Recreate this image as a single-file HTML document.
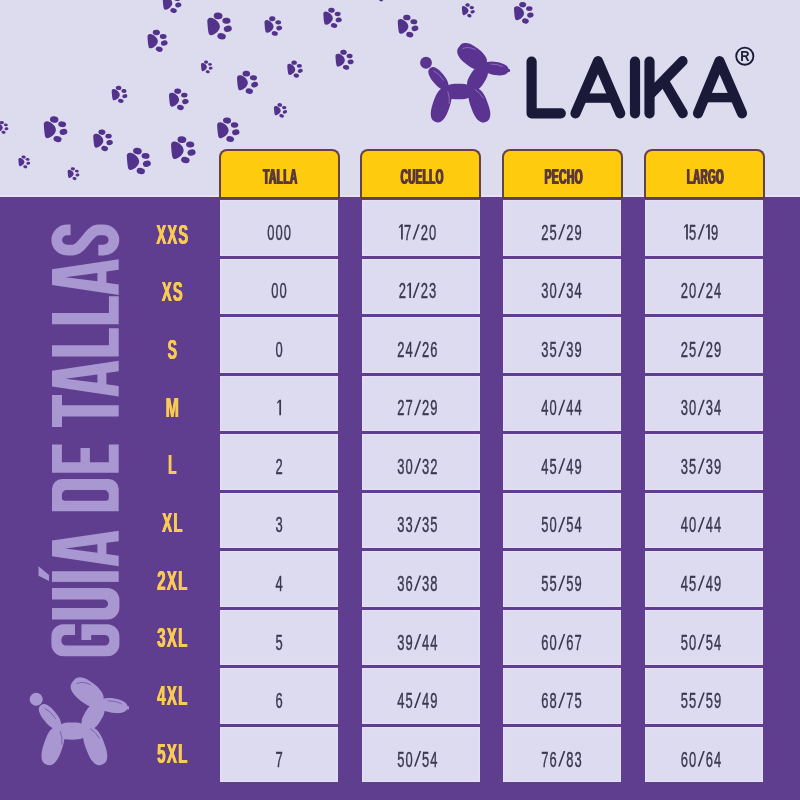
<!DOCTYPE html>
<html lang="es"><head><meta charset="utf-8"><title>Guía de tallas LAIKA</title>
<style>
html,body{margin:0;padding:0;}
body{width:800px;height:800px;overflow:hidden;background:#dddbee;font-family:"Liberation Sans",sans-serif;}
#stage{position:relative;width:800px;height:800px;overflow:hidden;}
#lower{position:absolute;left:0;top:195px;width:800px;height:602.5px;background:#5f3d8f;border-top:2.5px solid #e8e0fc;}
.hd{position:absolute;box-sizing:border-box;top:149.0px;height:50.4px;width:121.0px;background:#ffcb0f;border:2px solid #654246;border-bottom:2.4px solid #5e3a58;border-radius:8px 8px 0 0;}
.c{position:absolute;width:118.0px;height:55.5px;background:#dddbef;box-shadow:inset 0 0 0 1.2px #e6dff9;}
svg{position:absolute;left:0;top:0;will-change:transform;}
text{font-family:"Liberation Sans",sans-serif;}
</style></head><body><div id="stage">
<div id="lower"></div>
<div class="hd" style="left:218.75px"></div>
<div class="hd" style="left:360.42px"></div>
<div class="hd" style="left:502.09px"></div>
<div class="hd" style="left:643.76px"></div>
<div class="c" style="left:220.00px;top:200.00px"></div>
<div class="c" style="left:361.67px;top:200.00px"></div>
<div class="c" style="left:503.34px;top:200.00px"></div>
<div class="c" style="left:645.01px;top:200.00px"></div>
<div class="c" style="left:220.00px;top:258.55px"></div>
<div class="c" style="left:361.67px;top:258.55px"></div>
<div class="c" style="left:503.34px;top:258.55px"></div>
<div class="c" style="left:645.01px;top:258.55px"></div>
<div class="c" style="left:220.00px;top:317.10px"></div>
<div class="c" style="left:361.67px;top:317.10px"></div>
<div class="c" style="left:503.34px;top:317.10px"></div>
<div class="c" style="left:645.01px;top:317.10px"></div>
<div class="c" style="left:220.00px;top:375.65px"></div>
<div class="c" style="left:361.67px;top:375.65px"></div>
<div class="c" style="left:503.34px;top:375.65px"></div>
<div class="c" style="left:645.01px;top:375.65px"></div>
<div class="c" style="left:220.00px;top:434.20px"></div>
<div class="c" style="left:361.67px;top:434.20px"></div>
<div class="c" style="left:503.34px;top:434.20px"></div>
<div class="c" style="left:645.01px;top:434.20px"></div>
<div class="c" style="left:220.00px;top:492.75px"></div>
<div class="c" style="left:361.67px;top:492.75px"></div>
<div class="c" style="left:503.34px;top:492.75px"></div>
<div class="c" style="left:645.01px;top:492.75px"></div>
<div class="c" style="left:220.00px;top:551.30px"></div>
<div class="c" style="left:361.67px;top:551.30px"></div>
<div class="c" style="left:503.34px;top:551.30px"></div>
<div class="c" style="left:645.01px;top:551.30px"></div>
<div class="c" style="left:220.00px;top:609.85px"></div>
<div class="c" style="left:361.67px;top:609.85px"></div>
<div class="c" style="left:503.34px;top:609.85px"></div>
<div class="c" style="left:645.01px;top:609.85px"></div>
<div class="c" style="left:220.00px;top:668.40px"></div>
<div class="c" style="left:361.67px;top:668.40px"></div>
<div class="c" style="left:503.34px;top:668.40px"></div>
<div class="c" style="left:645.01px;top:668.40px"></div>
<div class="c" style="left:220.00px;top:726.95px"></div>
<div class="c" style="left:361.67px;top:726.95px"></div>
<div class="c" style="left:503.34px;top:726.95px"></div>
<div class="c" style="left:645.01px;top:726.95px"></div>
<svg width="800" height="800" viewBox="0 0 800 800">
<defs>
<g id="paw"><path d="M-11.6,-4.5 C-11.9,-7.6 -9.6,-8.7 -7,-7.9 C-3.4,-6.7 0.3,-3.3 0.4,0.2 C0.5,3.6 -3.8,7.7 -7.6,8.5 C-9.6,8.9 -10.3,7.3 -10.6,5.4 C-11.2,2 -11.4,-2 -11.6,-4.5 Z"/><ellipse cx="-1.3" cy="-9.9" rx="4.2" ry="3.2" transform="rotate(6 -1.3 -9.9)"/><ellipse cx="6.6" cy="-5.2" rx="3.9" ry="2.85" transform="rotate(4 6.6 -5.2)"/><ellipse cx="7.9" cy="2.4" rx="3.9" ry="3.0" transform="rotate(-14 7.9 2.4)"/><ellipse cx="2.0" cy="9.5" rx="4.1" ry="3.0" transform="rotate(14 2.0 9.5)"/></g>
<g id="dog"><circle cx="426" cy="62.75" r="5.9"/><path d="M446.7,88.7 L445.5,89.4 L444.3,89.7 L443.1,89.7 L441.7,89.3 L440.3,88.6 L438.8,87.6 L437.2,86.3 L435.6,84.6 L433.6,82.3 L431.7,79.9 L430.4,77.9 L429.5,76.1 L428.8,74.4 L428.4,72.9 L428.3,71.5 L428.5,70.3 L429.1,69.2 L430.1,68.1 L431.3,67.4 L432.5,67.1 L433.7,67.1 L435.1,67.5 L436.5,68.2 L438.0,69.2 L439.6,70.5 L441.2,72.2 L443.2,74.5 L445.1,76.9 L446.4,78.9 L447.3,80.7 L448.0,82.4 L448.4,83.9 L448.5,85.3 L448.3,86.5 L447.7,87.6Z M473.2,91.5 L473.0,93.3 L472.5,94.7 L471.5,95.9 L470.3,96.9 L468.6,97.7 L466.7,98.4 L464.5,98.9 L461.8,99.2 L458.4,99.3 L455.0,99.2 L452.3,98.9 L450.1,98.4 L448.2,97.7 L446.5,96.9 L445.3,95.9 L444.3,94.7 L443.8,93.3 L443.6,91.5 L443.8,89.7 L444.3,88.3 L445.3,87.1 L446.5,86.1 L448.2,85.3 L450.1,84.6 L452.3,84.1 L455.0,83.8 L458.4,83.7 L461.8,83.8 L464.5,84.1 L466.7,84.6 L468.6,85.3 L470.3,86.1 L471.5,87.1 L472.5,88.3 L473.0,89.7Z M435.6,122.0 L433.7,121.1 L432.5,120.0 L431.6,118.6 L431.0,116.8 L430.8,114.8 L430.8,112.4 L431.2,109.6 L431.9,106.5 L433.2,102.3 L434.7,98.2 L436.0,95.2 L437.3,92.9 L438.7,90.9 L440.2,89.4 L441.7,88.3 L443.2,87.7 L444.8,87.6 L446.9,88.0 L448.8,88.9 L450.0,90.0 L450.9,91.4 L451.5,93.2 L451.7,95.2 L451.7,97.6 L451.3,100.4 L450.6,103.5 L449.3,107.7 L447.8,111.8 L446.5,114.8 L445.2,117.1 L443.8,119.1 L442.3,120.6 L440.8,121.7 L439.3,122.3 L437.7,122.4Z M485.7,121.9 L483.6,122.4 L482.0,122.4 L480.4,121.8 L478.8,120.8 L477.3,119.4 L475.8,117.5 L474.4,115.2 L473.0,112.4 L471.4,108.3 L469.9,104.1 L469.1,101.1 L468.6,98.4 L468.5,96.0 L468.7,93.9 L469.2,92.2 L470.0,90.7 L471.2,89.6 L473.1,88.6 L475.2,88.1 L476.8,88.1 L478.4,88.7 L480.0,89.7 L481.5,91.1 L483.0,93.0 L484.4,95.3 L485.8,98.1 L487.4,102.2 L488.9,106.4 L489.7,109.4 L490.2,112.1 L490.3,114.5 L490.1,116.6 L489.6,118.3 L488.8,119.8 L487.6,120.9Z M484.9,66.4 L486.3,67.5 L487.2,68.7 L487.8,70.1 L488.0,71.7 L487.9,73.4 L487.6,75.3 L486.9,77.3 L485.8,79.5 L484.2,82.3 L482.4,85.0 L480.8,86.9 L479.3,88.4 L477.8,89.6 L476.2,90.4 L474.7,90.8 L473.3,90.9 L471.8,90.6 L470.1,89.8 L468.7,88.7 L467.8,87.5 L467.2,86.1 L467.0,84.5 L467.1,82.8 L467.4,80.9 L468.1,78.9 L469.2,76.7 L470.8,73.9 L472.6,71.2 L474.2,69.3 L475.7,67.8 L477.2,66.6 L478.8,65.8 L480.3,65.4 L481.7,65.3 L483.2,65.6Z M484.9,66.4 L483.3,68.2 L481.8,69.2 L480.1,69.7 L478.3,69.9 L476.3,69.6 L474.2,69.0 L471.9,67.9 L469.4,66.4 L466.1,64.0 L463.0,61.5 L461.0,59.4 L459.4,57.4 L458.3,55.5 L457.5,53.7 L457.2,51.8 L457.3,50.1 L457.9,48.4 L459.3,46.4 L460.9,44.6 L462.4,43.6 L464.1,43.1 L465.9,42.9 L467.9,43.2 L470.0,43.8 L472.3,44.9 L474.8,46.4 L478.1,48.8 L481.2,51.3 L483.2,53.4 L484.8,55.4 L485.9,57.3 L486.7,59.1 L487.0,61.0 L486.9,62.7 L486.3,64.4Z M508.5,70.5 L508.1,71.8 L507.4,72.9 L506.4,73.8 L505.1,74.4 L503.6,74.9 L501.8,75.2 L499.7,75.4 L497.4,75.3 L494.6,74.9 L491.8,74.4 L489.6,73.8 L487.7,73.1 L486.1,72.3 L484.7,71.3 L483.7,70.3 L483.0,69.2 L482.7,68.0 L482.7,66.5 L483.1,65.2 L483.8,64.1 L484.8,63.2 L486.1,62.6 L487.6,62.1 L489.4,61.8 L491.5,61.6 L493.8,61.7 L496.6,62.1 L499.4,62.6 L501.6,63.2 L503.5,63.9 L505.1,64.7 L506.5,65.7 L507.5,66.7 L508.2,67.8 L508.5,69.0Z"/><rect x="507" y="68.9" width="3" height="3.2" rx="0.8"/><path d="M462.9,48.5 Q468.1,46.0 475.2,49.5 M491.0,64.1 Q497.5,64.0 502.8,66.5 M433.8,70.9 Q439.4,73.8 443.5,80.2 M447.9,91.9 Q450.0,97.5 449.2,103.5 M475.0,89.5 Q480.0,92.5 483.2,98.1" fill="none" stroke="currentColor" stroke-width="0.9" stroke-linecap="round"/></g>
</defs>
<g fill="#53328b">
<use href="#paw" transform="translate(172,3) scale(0.798)"/>
<use href="#paw" transform="translate(157.5,41) scale(0.861)"/>
<use href="#paw" transform="translate(119.5,94.5) scale(0.672)"/>
<use href="#paw" transform="translate(178.75,99.5) scale(0.840)"/>
<use href="#paw" transform="translate(2.5,127.5) scale(0.504)"/>
<use href="#paw" transform="translate(55.5,129.5) scale(1.008)"/>
<use href="#paw" transform="translate(103,140.5) scale(0.840)"/>
<use href="#paw" transform="translate(183.25,150) scale(1.050)"/>
<use href="#paw" transform="translate(138.75,161.25) scale(1.029)"/>
<use href="#paw" transform="translate(24.25,162) scale(0.504)"/>
<use href="#paw" transform="translate(73.5,173.75) scale(0.504)"/>
<use href="#paw" transform="translate(219.5,26.25) scale(1.050)"/>
<use href="#paw" transform="translate(273.25,26.25) scale(0.756)"/>
<use href="#paw" transform="translate(332.5,18) scale(0.788)"/>
<use href="#paw" transform="translate(206.75,67) scale(0.494)"/>
<use href="#paw" transform="translate(295,69.25) scale(0.662)"/>
<use href="#paw" transform="translate(344.5,60) scale(0.777)"/>
<use href="#paw" transform="translate(247.5,82.5) scale(0.903)"/>
<use href="#paw" transform="translate(280.5,110.5) scale(0.567)"/>
<use href="#paw" transform="translate(228.25,130) scale(0.956)"/>
<use href="#paw" transform="translate(380,-5) scale(0.504)"/>
<use href="#paw" transform="translate(408,26.25) scale(0.882)"/>
<use href="#paw" transform="translate(468.25,10.5) scale(0.546)"/>
<use href="#paw" transform="translate(523.75,13) scale(0.840)"/>
</g>
<use href="#dog" fill="#5b3390" color="#8d72c2"/>
<use href="#dog" fill="#a997d1" color="#7d62b4" transform="translate(-434.53,629.91) scale(1.105)"/>
<g fill="none" stroke="#1a1a38" stroke-width="10.2" stroke-linecap="round" stroke-linejoin="round">
<path d="M531.6,61.6 V113.3 H560.8"/>
<path d="M575.5,113.3 L598,61.2 L620.2,113.3"/>
<path d="M583,98.1 H613" stroke-width="9.4" stroke-linecap="butt"/>
<path d="M635,61.6 V113.3"/>
<path d="M649.5,61.6 V113.3"/>
<path d="M682.5,61.2 L651.5,93"/>
<path d="M664.7,82.5 L682.7,113.2"/>
<path d="M698,113.3 L719.5,61.2 L742,113.3"/>
<path d="M705,97.6 H735" stroke-width="9.4" stroke-linecap="butt"/>
</g>
<circle cx="744.8" cy="56.15" r="8.6" fill="none" stroke="#1a1a38" stroke-width="1.85"/>
<text transform="translate(740.30,60.80) scale(0.9136,1)" font-size="14.10" font-weight="bold" fill="#1a1a38">R</text>
<text transform="translate(262.50,183.75) scale(0.4759,1)" font-size="21.44" font-weight="bold" fill="#5b393b" letter-spacing="0.8">TALLA</text><text transform="translate(263.15,183.75) scale(0.4759,1)" font-size="21.44" font-weight="bold" fill="#5b393b" letter-spacing="0.8">TALLA</text><text transform="translate(263.80,183.75) scale(0.4759,1)" font-size="21.44" font-weight="bold" fill="#5b393b" letter-spacing="0.8">TALLA</text>
<text transform="translate(399.90,183.75) scale(0.4656,1)" font-size="21.44" font-weight="bold" fill="#5b393b" letter-spacing="0.8">CUELLO</text><text transform="translate(400.55,183.75) scale(0.4656,1)" font-size="21.44" font-weight="bold" fill="#5b393b" letter-spacing="0.8">CUELLO</text><text transform="translate(401.20,183.75) scale(0.4656,1)" font-size="21.44" font-weight="bold" fill="#5b393b" letter-spacing="0.8">CUELLO</text>
<text transform="translate(544.00,183.75) scale(0.4796,1)" font-size="21.44" font-weight="bold" fill="#5b393b" letter-spacing="0.8">PECHO</text><text transform="translate(544.65,183.75) scale(0.4796,1)" font-size="21.44" font-weight="bold" fill="#5b393b" letter-spacing="0.8">PECHO</text><text transform="translate(545.30,183.75) scale(0.4796,1)" font-size="21.44" font-weight="bold" fill="#5b393b" letter-spacing="0.8">PECHO</text>
<text transform="translate(686.25,183.75) scale(0.4552,1)" font-size="21.44" font-weight="bold" fill="#5b393b" letter-spacing="0.8">LARGO</text><text transform="translate(686.90,183.75) scale(0.4552,1)" font-size="21.44" font-weight="bold" fill="#5b393b" letter-spacing="0.8">LARGO</text><text transform="translate(687.55,183.75) scale(0.4552,1)" font-size="21.44" font-weight="bold" fill="#5b393b" letter-spacing="0.8">LARGO</text>
<text transform="translate(156.10,243.60) scale(0.5419,1)" font-size="27.03" font-weight="bold" fill="#facb52" letter-spacing="2.2">XXS</text><text transform="translate(156.45,243.60) scale(0.5419,1)" font-size="27.03" font-weight="bold" fill="#facb52" letter-spacing="2.2">XXS</text><text transform="translate(156.80,243.60) scale(0.5419,1)" font-size="27.03" font-weight="bold" fill="#facb52" letter-spacing="2.2">XXS</text>
<text transform="translate(161.60,301.27) scale(0.5410,1)" font-size="27.03" font-weight="bold" fill="#facb52" letter-spacing="2.2">XS</text><text transform="translate(161.95,301.27) scale(0.5410,1)" font-size="27.03" font-weight="bold" fill="#facb52" letter-spacing="2.2">XS</text><text transform="translate(162.30,301.27) scale(0.5410,1)" font-size="27.03" font-weight="bold" fill="#facb52" letter-spacing="2.2">XS</text>
<text transform="translate(167.30,358.94) scale(0.5157,1)" font-size="27.03" font-weight="bold" fill="#facb52" letter-spacing="2.2">S</text><text transform="translate(167.65,358.94) scale(0.5157,1)" font-size="27.03" font-weight="bold" fill="#facb52" letter-spacing="2.2">S</text><text transform="translate(168.00,358.94) scale(0.5157,1)" font-size="27.03" font-weight="bold" fill="#facb52" letter-spacing="2.2">S</text>
<text transform="translate(165.30,416.61) scale(0.5906,1)" font-size="27.03" font-weight="bold" fill="#facb52" letter-spacing="2.2">M</text><text transform="translate(165.65,416.61) scale(0.5906,1)" font-size="27.03" font-weight="bold" fill="#facb52" letter-spacing="2.2">M</text><text transform="translate(166.00,416.61) scale(0.5906,1)" font-size="27.03" font-weight="bold" fill="#facb52" letter-spacing="2.2">M</text>
<text transform="translate(167.80,474.28) scale(0.5025,1)" font-size="27.03" font-weight="bold" fill="#facb52" letter-spacing="2.2">L</text><text transform="translate(168.15,474.28) scale(0.5025,1)" font-size="27.03" font-weight="bold" fill="#facb52" letter-spacing="2.2">L</text><text transform="translate(168.50,474.28) scale(0.5025,1)" font-size="27.03" font-weight="bold" fill="#facb52" letter-spacing="2.2">L</text>
<text transform="translate(161.80,531.95) scale(0.5524,1)" font-size="27.03" font-weight="bold" fill="#facb52" letter-spacing="2.2">XL</text><text transform="translate(162.15,531.95) scale(0.5524,1)" font-size="27.03" font-weight="bold" fill="#facb52" letter-spacing="2.2">XL</text><text transform="translate(162.50,531.95) scale(0.5524,1)" font-size="27.03" font-weight="bold" fill="#facb52" letter-spacing="2.2">XL</text>
<text transform="translate(156.85,589.62) scale(0.5594,1)" font-size="27.03" font-weight="bold" fill="#facb52" letter-spacing="2.2">2XL</text><text transform="translate(157.20,589.62) scale(0.5594,1)" font-size="27.03" font-weight="bold" fill="#facb52" letter-spacing="2.2">2XL</text><text transform="translate(157.55,589.62) scale(0.5594,1)" font-size="27.03" font-weight="bold" fill="#facb52" letter-spacing="2.2">2XL</text>
<text transform="translate(156.85,647.29) scale(0.5594,1)" font-size="27.03" font-weight="bold" fill="#facb52" letter-spacing="2.2">3XL</text><text transform="translate(157.20,647.29) scale(0.5594,1)" font-size="27.03" font-weight="bold" fill="#facb52" letter-spacing="2.2">3XL</text><text transform="translate(157.55,647.29) scale(0.5594,1)" font-size="27.03" font-weight="bold" fill="#facb52" letter-spacing="2.2">3XL</text>
<text transform="translate(156.85,704.96) scale(0.5594,1)" font-size="27.03" font-weight="bold" fill="#facb52" letter-spacing="2.2">4XL</text><text transform="translate(157.20,704.96) scale(0.5594,1)" font-size="27.03" font-weight="bold" fill="#facb52" letter-spacing="2.2">4XL</text><text transform="translate(157.55,704.96) scale(0.5594,1)" font-size="27.03" font-weight="bold" fill="#facb52" letter-spacing="2.2">4XL</text>
<text transform="translate(156.85,762.63) scale(0.5594,1)" font-size="27.03" font-weight="bold" fill="#facb52" letter-spacing="2.2">5XL</text><text transform="translate(157.20,762.63) scale(0.5594,1)" font-size="27.03" font-weight="bold" fill="#facb52" letter-spacing="2.2">5XL</text><text transform="translate(157.55,762.63) scale(0.5594,1)" font-size="27.03" font-weight="bold" fill="#facb52" letter-spacing="2.2">5XL</text>
<text transform="translate(267.15,239.65) scale(0.5711,1)" font-size="22.67" font-weight="normal" fill="#3a384f" stroke="#3a384f" stroke-width="0.45">0</text>
<text transform="translate(275.40,239.65) scale(0.5711,1)" font-size="22.67" font-weight="normal" fill="#3a384f" stroke="#3a384f" stroke-width="0.45">0</text>
<text transform="translate(283.65,239.65) scale(0.5711,1)" font-size="22.67" font-weight="normal" fill="#3a384f" stroke="#3a384f" stroke-width="0.45">0</text>
<path d="M402.80,224.15 V239.55 H401.05 V226.45 L398.90,228.15 V226.65 L401.05,224.15 Z" fill="#3a384f"/>
<text transform="translate(404.00,239.65) scale(0.5711,1)" font-size="22.67" font-weight="normal" fill="#3a384f" stroke="#3a384f" stroke-width="0.45">7</text>
<path d="M412.55,239.55 h1.7 L419.75,224.15 h-1.7 Z" fill="#3a384f"/>
<text transform="translate(420.65,239.65) scale(0.5711,1)" font-size="22.67" font-weight="normal" fill="#3a384f" stroke="#3a384f" stroke-width="0.45">2</text>
<text transform="translate(428.90,239.65) scale(0.5711,1)" font-size="22.67" font-weight="normal" fill="#3a384f" stroke="#3a384f" stroke-width="0.45">0</text>
<text transform="translate(541.33,239.65) scale(0.5711,1)" font-size="22.67" font-weight="normal" fill="#3a384f" stroke="#3a384f" stroke-width="0.45">2</text>
<text transform="translate(549.58,239.65) scale(0.5711,1)" font-size="22.67" font-weight="normal" fill="#3a384f" stroke="#3a384f" stroke-width="0.45">5</text>
<path d="M558.12,239.55 h1.7 L565.33,224.15 h-1.7 Z" fill="#3a384f"/>
<text transform="translate(566.23,239.65) scale(0.5711,1)" font-size="22.67" font-weight="normal" fill="#3a384f" stroke="#3a384f" stroke-width="0.45">2</text>
<text transform="translate(574.48,239.65) scale(0.5711,1)" font-size="22.67" font-weight="normal" fill="#3a384f" stroke="#3a384f" stroke-width="0.45">9</text>
<path d="M687.88,224.15 V239.55 H686.12 V226.45 L683.98,228.15 V226.65 L686.12,224.15 Z" fill="#3a384f"/>
<text transform="translate(689.07,239.65) scale(0.5711,1)" font-size="22.67" font-weight="normal" fill="#3a384f" stroke="#3a384f" stroke-width="0.45">5</text>
<path d="M697.62,239.55 h1.7 L704.82,224.15 h-1.7 Z" fill="#3a384f"/>
<path d="M709.82,224.15 V239.55 H708.07 V226.45 L705.92,228.15 V226.65 L708.07,224.15 Z" fill="#3a384f"/>
<text transform="translate(711.02,239.65) scale(0.5711,1)" font-size="22.67" font-weight="normal" fill="#3a384f" stroke="#3a384f" stroke-width="0.45">9</text>
<text transform="translate(271.27,298.20) scale(0.5711,1)" font-size="22.67" font-weight="normal" fill="#3a384f" stroke="#3a384f" stroke-width="0.45">0</text>
<text transform="translate(279.52,298.20) scale(0.5711,1)" font-size="22.67" font-weight="normal" fill="#3a384f" stroke="#3a384f" stroke-width="0.45">0</text>
<text transform="translate(398.70,298.20) scale(0.5711,1)" font-size="22.67" font-weight="normal" fill="#3a384f" stroke="#3a384f" stroke-width="0.45">2</text>
<path d="M411.05,282.70 V298.10 H409.30 V285.00 L407.15,286.70 V285.20 L409.30,282.70 Z" fill="#3a384f"/>
<path d="M412.55,298.10 h1.7 L419.75,282.70 h-1.7 Z" fill="#3a384f"/>
<text transform="translate(420.65,298.20) scale(0.5711,1)" font-size="22.67" font-weight="normal" fill="#3a384f" stroke="#3a384f" stroke-width="0.45">2</text>
<text transform="translate(428.90,298.20) scale(0.5711,1)" font-size="22.67" font-weight="normal" fill="#3a384f" stroke="#3a384f" stroke-width="0.45">3</text>
<text transform="translate(541.33,298.20) scale(0.5711,1)" font-size="22.67" font-weight="normal" fill="#3a384f" stroke="#3a384f" stroke-width="0.45">3</text>
<text transform="translate(549.58,298.20) scale(0.5711,1)" font-size="22.67" font-weight="normal" fill="#3a384f" stroke="#3a384f" stroke-width="0.45">0</text>
<path d="M558.12,298.10 h1.7 L565.33,282.70 h-1.7 Z" fill="#3a384f"/>
<text transform="translate(566.23,298.20) scale(0.5711,1)" font-size="22.67" font-weight="normal" fill="#3a384f" stroke="#3a384f" stroke-width="0.45">3</text>
<text transform="translate(574.48,298.20) scale(0.5711,1)" font-size="22.67" font-weight="normal" fill="#3a384f" stroke="#3a384f" stroke-width="0.45">4</text>
<text transform="translate(680.83,298.20) scale(0.5711,1)" font-size="22.67" font-weight="normal" fill="#3a384f" stroke="#3a384f" stroke-width="0.45">2</text>
<text transform="translate(689.08,298.20) scale(0.5711,1)" font-size="22.67" font-weight="normal" fill="#3a384f" stroke="#3a384f" stroke-width="0.45">0</text>
<path d="M697.62,298.10 h1.7 L704.83,282.70 h-1.7 Z" fill="#3a384f"/>
<text transform="translate(705.73,298.20) scale(0.5711,1)" font-size="22.67" font-weight="normal" fill="#3a384f" stroke="#3a384f" stroke-width="0.45">2</text>
<text transform="translate(713.98,298.20) scale(0.5711,1)" font-size="22.67" font-weight="normal" fill="#3a384f" stroke="#3a384f" stroke-width="0.45">4</text>
<text transform="translate(275.40,356.75) scale(0.5711,1)" font-size="22.67" font-weight="normal" fill="#3a384f" stroke="#3a384f" stroke-width="0.45">0</text>
<text transform="translate(397.22,356.75) scale(0.5711,1)" font-size="22.67" font-weight="normal" fill="#3a384f" stroke="#3a384f" stroke-width="0.45">2</text>
<text transform="translate(405.47,356.75) scale(0.5711,1)" font-size="22.67" font-weight="normal" fill="#3a384f" stroke="#3a384f" stroke-width="0.45">4</text>
<path d="M414.02,356.65 h1.7 L421.22,341.25 h-1.7 Z" fill="#3a384f"/>
<text transform="translate(422.12,356.75) scale(0.5711,1)" font-size="22.67" font-weight="normal" fill="#3a384f" stroke="#3a384f" stroke-width="0.45">2</text>
<text transform="translate(430.37,356.75) scale(0.5711,1)" font-size="22.67" font-weight="normal" fill="#3a384f" stroke="#3a384f" stroke-width="0.45">6</text>
<text transform="translate(541.33,356.75) scale(0.5711,1)" font-size="22.67" font-weight="normal" fill="#3a384f" stroke="#3a384f" stroke-width="0.45">3</text>
<text transform="translate(549.58,356.75) scale(0.5711,1)" font-size="22.67" font-weight="normal" fill="#3a384f" stroke="#3a384f" stroke-width="0.45">5</text>
<path d="M558.12,356.65 h1.7 L565.33,341.25 h-1.7 Z" fill="#3a384f"/>
<text transform="translate(566.23,356.75) scale(0.5711,1)" font-size="22.67" font-weight="normal" fill="#3a384f" stroke="#3a384f" stroke-width="0.45">3</text>
<text transform="translate(574.48,356.75) scale(0.5711,1)" font-size="22.67" font-weight="normal" fill="#3a384f" stroke="#3a384f" stroke-width="0.45">9</text>
<text transform="translate(680.83,356.75) scale(0.5711,1)" font-size="22.67" font-weight="normal" fill="#3a384f" stroke="#3a384f" stroke-width="0.45">2</text>
<text transform="translate(689.08,356.75) scale(0.5711,1)" font-size="22.67" font-weight="normal" fill="#3a384f" stroke="#3a384f" stroke-width="0.45">5</text>
<path d="M697.62,356.65 h1.7 L704.83,341.25 h-1.7 Z" fill="#3a384f"/>
<text transform="translate(705.73,356.75) scale(0.5711,1)" font-size="22.67" font-weight="normal" fill="#3a384f" stroke="#3a384f" stroke-width="0.45">2</text>
<text transform="translate(713.98,356.75) scale(0.5711,1)" font-size="22.67" font-weight="normal" fill="#3a384f" stroke="#3a384f" stroke-width="0.45">9</text>
<path d="M281.05,399.80 V415.20 H279.30 V402.10 L277.15,403.80 V402.30 L279.30,399.80 Z" fill="#3a384f"/>
<text transform="translate(397.22,415.30) scale(0.5711,1)" font-size="22.67" font-weight="normal" fill="#3a384f" stroke="#3a384f" stroke-width="0.45">2</text>
<text transform="translate(405.47,415.30) scale(0.5711,1)" font-size="22.67" font-weight="normal" fill="#3a384f" stroke="#3a384f" stroke-width="0.45">7</text>
<path d="M414.02,415.20 h1.7 L421.22,399.80 h-1.7 Z" fill="#3a384f"/>
<text transform="translate(422.12,415.30) scale(0.5711,1)" font-size="22.67" font-weight="normal" fill="#3a384f" stroke="#3a384f" stroke-width="0.45">2</text>
<text transform="translate(430.37,415.30) scale(0.5711,1)" font-size="22.67" font-weight="normal" fill="#3a384f" stroke="#3a384f" stroke-width="0.45">9</text>
<text transform="translate(541.33,415.30) scale(0.5711,1)" font-size="22.67" font-weight="normal" fill="#3a384f" stroke="#3a384f" stroke-width="0.45">4</text>
<text transform="translate(549.58,415.30) scale(0.5711,1)" font-size="22.67" font-weight="normal" fill="#3a384f" stroke="#3a384f" stroke-width="0.45">0</text>
<path d="M558.12,415.20 h1.7 L565.33,399.80 h-1.7 Z" fill="#3a384f"/>
<text transform="translate(566.23,415.30) scale(0.5711,1)" font-size="22.67" font-weight="normal" fill="#3a384f" stroke="#3a384f" stroke-width="0.45">4</text>
<text transform="translate(574.48,415.30) scale(0.5711,1)" font-size="22.67" font-weight="normal" fill="#3a384f" stroke="#3a384f" stroke-width="0.45">4</text>
<text transform="translate(680.83,415.30) scale(0.5711,1)" font-size="22.67" font-weight="normal" fill="#3a384f" stroke="#3a384f" stroke-width="0.45">3</text>
<text transform="translate(689.08,415.30) scale(0.5711,1)" font-size="22.67" font-weight="normal" fill="#3a384f" stroke="#3a384f" stroke-width="0.45">0</text>
<path d="M697.62,415.20 h1.7 L704.83,399.80 h-1.7 Z" fill="#3a384f"/>
<text transform="translate(705.73,415.30) scale(0.5711,1)" font-size="22.67" font-weight="normal" fill="#3a384f" stroke="#3a384f" stroke-width="0.45">3</text>
<text transform="translate(713.98,415.30) scale(0.5711,1)" font-size="22.67" font-weight="normal" fill="#3a384f" stroke="#3a384f" stroke-width="0.45">4</text>
<text transform="translate(275.40,473.85) scale(0.5711,1)" font-size="22.67" font-weight="normal" fill="#3a384f" stroke="#3a384f" stroke-width="0.45">2</text>
<text transform="translate(397.22,473.85) scale(0.5711,1)" font-size="22.67" font-weight="normal" fill="#3a384f" stroke="#3a384f" stroke-width="0.45">3</text>
<text transform="translate(405.47,473.85) scale(0.5711,1)" font-size="22.67" font-weight="normal" fill="#3a384f" stroke="#3a384f" stroke-width="0.45">0</text>
<path d="M414.02,473.75 h1.7 L421.22,458.35 h-1.7 Z" fill="#3a384f"/>
<text transform="translate(422.12,473.85) scale(0.5711,1)" font-size="22.67" font-weight="normal" fill="#3a384f" stroke="#3a384f" stroke-width="0.45">3</text>
<text transform="translate(430.37,473.85) scale(0.5711,1)" font-size="22.67" font-weight="normal" fill="#3a384f" stroke="#3a384f" stroke-width="0.45">2</text>
<text transform="translate(541.33,473.85) scale(0.5711,1)" font-size="22.67" font-weight="normal" fill="#3a384f" stroke="#3a384f" stroke-width="0.45">4</text>
<text transform="translate(549.58,473.85) scale(0.5711,1)" font-size="22.67" font-weight="normal" fill="#3a384f" stroke="#3a384f" stroke-width="0.45">5</text>
<path d="M558.12,473.75 h1.7 L565.33,458.35 h-1.7 Z" fill="#3a384f"/>
<text transform="translate(566.23,473.85) scale(0.5711,1)" font-size="22.67" font-weight="normal" fill="#3a384f" stroke="#3a384f" stroke-width="0.45">4</text>
<text transform="translate(574.48,473.85) scale(0.5711,1)" font-size="22.67" font-weight="normal" fill="#3a384f" stroke="#3a384f" stroke-width="0.45">9</text>
<text transform="translate(680.83,473.85) scale(0.5711,1)" font-size="22.67" font-weight="normal" fill="#3a384f" stroke="#3a384f" stroke-width="0.45">3</text>
<text transform="translate(689.08,473.85) scale(0.5711,1)" font-size="22.67" font-weight="normal" fill="#3a384f" stroke="#3a384f" stroke-width="0.45">5</text>
<path d="M697.62,473.75 h1.7 L704.83,458.35 h-1.7 Z" fill="#3a384f"/>
<text transform="translate(705.73,473.85) scale(0.5711,1)" font-size="22.67" font-weight="normal" fill="#3a384f" stroke="#3a384f" stroke-width="0.45">3</text>
<text transform="translate(713.98,473.85) scale(0.5711,1)" font-size="22.67" font-weight="normal" fill="#3a384f" stroke="#3a384f" stroke-width="0.45">9</text>
<text transform="translate(275.40,532.40) scale(0.5711,1)" font-size="22.67" font-weight="normal" fill="#3a384f" stroke="#3a384f" stroke-width="0.45">3</text>
<text transform="translate(397.22,532.40) scale(0.5711,1)" font-size="22.67" font-weight="normal" fill="#3a384f" stroke="#3a384f" stroke-width="0.45">3</text>
<text transform="translate(405.47,532.40) scale(0.5711,1)" font-size="22.67" font-weight="normal" fill="#3a384f" stroke="#3a384f" stroke-width="0.45">3</text>
<path d="M414.02,532.30 h1.7 L421.22,516.90 h-1.7 Z" fill="#3a384f"/>
<text transform="translate(422.12,532.40) scale(0.5711,1)" font-size="22.67" font-weight="normal" fill="#3a384f" stroke="#3a384f" stroke-width="0.45">3</text>
<text transform="translate(430.37,532.40) scale(0.5711,1)" font-size="22.67" font-weight="normal" fill="#3a384f" stroke="#3a384f" stroke-width="0.45">5</text>
<text transform="translate(541.33,532.40) scale(0.5711,1)" font-size="22.67" font-weight="normal" fill="#3a384f" stroke="#3a384f" stroke-width="0.45">5</text>
<text transform="translate(549.58,532.40) scale(0.5711,1)" font-size="22.67" font-weight="normal" fill="#3a384f" stroke="#3a384f" stroke-width="0.45">0</text>
<path d="M558.12,532.30 h1.7 L565.33,516.90 h-1.7 Z" fill="#3a384f"/>
<text transform="translate(566.23,532.40) scale(0.5711,1)" font-size="22.67" font-weight="normal" fill="#3a384f" stroke="#3a384f" stroke-width="0.45">5</text>
<text transform="translate(574.48,532.40) scale(0.5711,1)" font-size="22.67" font-weight="normal" fill="#3a384f" stroke="#3a384f" stroke-width="0.45">4</text>
<text transform="translate(680.83,532.40) scale(0.5711,1)" font-size="22.67" font-weight="normal" fill="#3a384f" stroke="#3a384f" stroke-width="0.45">4</text>
<text transform="translate(689.08,532.40) scale(0.5711,1)" font-size="22.67" font-weight="normal" fill="#3a384f" stroke="#3a384f" stroke-width="0.45">0</text>
<path d="M697.62,532.30 h1.7 L704.83,516.90 h-1.7 Z" fill="#3a384f"/>
<text transform="translate(705.73,532.40) scale(0.5711,1)" font-size="22.67" font-weight="normal" fill="#3a384f" stroke="#3a384f" stroke-width="0.45">4</text>
<text transform="translate(713.98,532.40) scale(0.5711,1)" font-size="22.67" font-weight="normal" fill="#3a384f" stroke="#3a384f" stroke-width="0.45">4</text>
<text transform="translate(275.40,590.95) scale(0.5711,1)" font-size="22.67" font-weight="normal" fill="#3a384f" stroke="#3a384f" stroke-width="0.45">4</text>
<text transform="translate(397.22,590.95) scale(0.5711,1)" font-size="22.67" font-weight="normal" fill="#3a384f" stroke="#3a384f" stroke-width="0.45">3</text>
<text transform="translate(405.47,590.95) scale(0.5711,1)" font-size="22.67" font-weight="normal" fill="#3a384f" stroke="#3a384f" stroke-width="0.45">6</text>
<path d="M414.02,590.85 h1.7 L421.22,575.45 h-1.7 Z" fill="#3a384f"/>
<text transform="translate(422.12,590.95) scale(0.5711,1)" font-size="22.67" font-weight="normal" fill="#3a384f" stroke="#3a384f" stroke-width="0.45">3</text>
<text transform="translate(430.37,590.95) scale(0.5711,1)" font-size="22.67" font-weight="normal" fill="#3a384f" stroke="#3a384f" stroke-width="0.45">8</text>
<text transform="translate(541.33,590.95) scale(0.5711,1)" font-size="22.67" font-weight="normal" fill="#3a384f" stroke="#3a384f" stroke-width="0.45">5</text>
<text transform="translate(549.58,590.95) scale(0.5711,1)" font-size="22.67" font-weight="normal" fill="#3a384f" stroke="#3a384f" stroke-width="0.45">5</text>
<path d="M558.12,590.85 h1.7 L565.33,575.45 h-1.7 Z" fill="#3a384f"/>
<text transform="translate(566.23,590.95) scale(0.5711,1)" font-size="22.67" font-weight="normal" fill="#3a384f" stroke="#3a384f" stroke-width="0.45">5</text>
<text transform="translate(574.48,590.95) scale(0.5711,1)" font-size="22.67" font-weight="normal" fill="#3a384f" stroke="#3a384f" stroke-width="0.45">9</text>
<text transform="translate(680.83,590.95) scale(0.5711,1)" font-size="22.67" font-weight="normal" fill="#3a384f" stroke="#3a384f" stroke-width="0.45">4</text>
<text transform="translate(689.08,590.95) scale(0.5711,1)" font-size="22.67" font-weight="normal" fill="#3a384f" stroke="#3a384f" stroke-width="0.45">5</text>
<path d="M697.62,590.85 h1.7 L704.83,575.45 h-1.7 Z" fill="#3a384f"/>
<text transform="translate(705.73,590.95) scale(0.5711,1)" font-size="22.67" font-weight="normal" fill="#3a384f" stroke="#3a384f" stroke-width="0.45">4</text>
<text transform="translate(713.98,590.95) scale(0.5711,1)" font-size="22.67" font-weight="normal" fill="#3a384f" stroke="#3a384f" stroke-width="0.45">9</text>
<text transform="translate(275.40,649.50) scale(0.5711,1)" font-size="22.67" font-weight="normal" fill="#3a384f" stroke="#3a384f" stroke-width="0.45">5</text>
<text transform="translate(397.22,649.50) scale(0.5711,1)" font-size="22.67" font-weight="normal" fill="#3a384f" stroke="#3a384f" stroke-width="0.45">3</text>
<text transform="translate(405.47,649.50) scale(0.5711,1)" font-size="22.67" font-weight="normal" fill="#3a384f" stroke="#3a384f" stroke-width="0.45">9</text>
<path d="M414.02,649.40 h1.7 L421.22,634.00 h-1.7 Z" fill="#3a384f"/>
<text transform="translate(422.12,649.50) scale(0.5711,1)" font-size="22.67" font-weight="normal" fill="#3a384f" stroke="#3a384f" stroke-width="0.45">4</text>
<text transform="translate(430.37,649.50) scale(0.5711,1)" font-size="22.67" font-weight="normal" fill="#3a384f" stroke="#3a384f" stroke-width="0.45">4</text>
<text transform="translate(541.33,649.50) scale(0.5711,1)" font-size="22.67" font-weight="normal" fill="#3a384f" stroke="#3a384f" stroke-width="0.45">6</text>
<text transform="translate(549.58,649.50) scale(0.5711,1)" font-size="22.67" font-weight="normal" fill="#3a384f" stroke="#3a384f" stroke-width="0.45">0</text>
<path d="M558.12,649.40 h1.7 L565.33,634.00 h-1.7 Z" fill="#3a384f"/>
<text transform="translate(566.23,649.50) scale(0.5711,1)" font-size="22.67" font-weight="normal" fill="#3a384f" stroke="#3a384f" stroke-width="0.45">6</text>
<text transform="translate(574.48,649.50) scale(0.5711,1)" font-size="22.67" font-weight="normal" fill="#3a384f" stroke="#3a384f" stroke-width="0.45">7</text>
<text transform="translate(680.83,649.50) scale(0.5711,1)" font-size="22.67" font-weight="normal" fill="#3a384f" stroke="#3a384f" stroke-width="0.45">5</text>
<text transform="translate(689.08,649.50) scale(0.5711,1)" font-size="22.67" font-weight="normal" fill="#3a384f" stroke="#3a384f" stroke-width="0.45">0</text>
<path d="M697.62,649.40 h1.7 L704.83,634.00 h-1.7 Z" fill="#3a384f"/>
<text transform="translate(705.73,649.50) scale(0.5711,1)" font-size="22.67" font-weight="normal" fill="#3a384f" stroke="#3a384f" stroke-width="0.45">5</text>
<text transform="translate(713.98,649.50) scale(0.5711,1)" font-size="22.67" font-weight="normal" fill="#3a384f" stroke="#3a384f" stroke-width="0.45">4</text>
<text transform="translate(275.40,708.05) scale(0.5711,1)" font-size="22.67" font-weight="normal" fill="#3a384f" stroke="#3a384f" stroke-width="0.45">6</text>
<text transform="translate(397.22,708.05) scale(0.5711,1)" font-size="22.67" font-weight="normal" fill="#3a384f" stroke="#3a384f" stroke-width="0.45">4</text>
<text transform="translate(405.47,708.05) scale(0.5711,1)" font-size="22.67" font-weight="normal" fill="#3a384f" stroke="#3a384f" stroke-width="0.45">5</text>
<path d="M414.02,707.95 h1.7 L421.22,692.55 h-1.7 Z" fill="#3a384f"/>
<text transform="translate(422.12,708.05) scale(0.5711,1)" font-size="22.67" font-weight="normal" fill="#3a384f" stroke="#3a384f" stroke-width="0.45">4</text>
<text transform="translate(430.37,708.05) scale(0.5711,1)" font-size="22.67" font-weight="normal" fill="#3a384f" stroke="#3a384f" stroke-width="0.45">9</text>
<text transform="translate(541.33,708.05) scale(0.5711,1)" font-size="22.67" font-weight="normal" fill="#3a384f" stroke="#3a384f" stroke-width="0.45">6</text>
<text transform="translate(549.58,708.05) scale(0.5711,1)" font-size="22.67" font-weight="normal" fill="#3a384f" stroke="#3a384f" stroke-width="0.45">8</text>
<path d="M558.12,707.95 h1.7 L565.33,692.55 h-1.7 Z" fill="#3a384f"/>
<text transform="translate(566.23,708.05) scale(0.5711,1)" font-size="22.67" font-weight="normal" fill="#3a384f" stroke="#3a384f" stroke-width="0.45">7</text>
<text transform="translate(574.48,708.05) scale(0.5711,1)" font-size="22.67" font-weight="normal" fill="#3a384f" stroke="#3a384f" stroke-width="0.45">5</text>
<text transform="translate(680.83,708.05) scale(0.5711,1)" font-size="22.67" font-weight="normal" fill="#3a384f" stroke="#3a384f" stroke-width="0.45">5</text>
<text transform="translate(689.08,708.05) scale(0.5711,1)" font-size="22.67" font-weight="normal" fill="#3a384f" stroke="#3a384f" stroke-width="0.45">5</text>
<path d="M697.62,707.95 h1.7 L704.83,692.55 h-1.7 Z" fill="#3a384f"/>
<text transform="translate(705.73,708.05) scale(0.5711,1)" font-size="22.67" font-weight="normal" fill="#3a384f" stroke="#3a384f" stroke-width="0.45">5</text>
<text transform="translate(713.98,708.05) scale(0.5711,1)" font-size="22.67" font-weight="normal" fill="#3a384f" stroke="#3a384f" stroke-width="0.45">9</text>
<text transform="translate(275.40,766.60) scale(0.5711,1)" font-size="22.67" font-weight="normal" fill="#3a384f" stroke="#3a384f" stroke-width="0.45">7</text>
<text transform="translate(397.22,766.60) scale(0.5711,1)" font-size="22.67" font-weight="normal" fill="#3a384f" stroke="#3a384f" stroke-width="0.45">5</text>
<text transform="translate(405.47,766.60) scale(0.5711,1)" font-size="22.67" font-weight="normal" fill="#3a384f" stroke="#3a384f" stroke-width="0.45">0</text>
<path d="M414.02,766.50 h1.7 L421.22,751.10 h-1.7 Z" fill="#3a384f"/>
<text transform="translate(422.12,766.60) scale(0.5711,1)" font-size="22.67" font-weight="normal" fill="#3a384f" stroke="#3a384f" stroke-width="0.45">5</text>
<text transform="translate(430.37,766.60) scale(0.5711,1)" font-size="22.67" font-weight="normal" fill="#3a384f" stroke="#3a384f" stroke-width="0.45">4</text>
<text transform="translate(541.33,766.60) scale(0.5711,1)" font-size="22.67" font-weight="normal" fill="#3a384f" stroke="#3a384f" stroke-width="0.45">7</text>
<text transform="translate(549.58,766.60) scale(0.5711,1)" font-size="22.67" font-weight="normal" fill="#3a384f" stroke="#3a384f" stroke-width="0.45">6</text>
<path d="M558.12,766.50 h1.7 L565.33,751.10 h-1.7 Z" fill="#3a384f"/>
<text transform="translate(566.23,766.60) scale(0.5711,1)" font-size="22.67" font-weight="normal" fill="#3a384f" stroke="#3a384f" stroke-width="0.45">8</text>
<text transform="translate(574.48,766.60) scale(0.5711,1)" font-size="22.67" font-weight="normal" fill="#3a384f" stroke="#3a384f" stroke-width="0.45">3</text>
<text transform="translate(680.83,766.60) scale(0.5711,1)" font-size="22.67" font-weight="normal" fill="#3a384f" stroke="#3a384f" stroke-width="0.45">6</text>
<text transform="translate(689.08,766.60) scale(0.5711,1)" font-size="22.67" font-weight="normal" fill="#3a384f" stroke="#3a384f" stroke-width="0.45">0</text>
<path d="M697.62,766.50 h1.7 L704.83,751.10 h-1.7 Z" fill="#3a384f"/>
<text transform="translate(705.73,766.60) scale(0.5711,1)" font-size="22.67" font-weight="normal" fill="#3a384f" stroke="#3a384f" stroke-width="0.45">6</text>
<text transform="translate(713.98,766.60) scale(0.5711,1)" font-size="22.67" font-weight="normal" fill="#3a384f" stroke="#3a384f" stroke-width="0.45">4</text>
<g transform="translate(52,656.25) rotate(-90)" fill="#a997d1">
<g transform="translate(0.00,0)"><path fill-rule="evenodd" d="M12,-0.6 H20 A12,12 0 0 1 32,11.4 V23 H21.3 V14 A4.6,4.6 0 0 0 16.7,9.4 H15.3 A4.6,4.6 0 0 0 10.7,14 V52.7 A4.6,4.6 0 0 0 15.3,57.3 H16.7 A4.6,4.6 0 0 0 21.3,52.7 V39.2 H16.2 V29.4 H32 V55.4 A12,12 0 0 1 20,67.4 H12 A12,12 0 0 1 0,55.4 V11.4 A12,12 0 0 1 12,-0.6 Z"/></g>
<g transform="translate(36.85,0)"><path d="M0,0 H11.3 V51.7 A4.35,4.35 0 0 0 20,51.7 V0 H31.3 V55.4 A12,12 0 0 1 19.3,67.4 H12 A12,12 0 0 1 0,55.4 Z"/></g>
<g transform="translate(74.35,0)"><rect x="0" y="0" width="10.65" height="66.7"/><path d="M0.9,-3 L6.9,-3 L15.65,-13.5 L6.15,-13.5 Z"/></g>
<g transform="translate(90.00,0)"><path fill-rule="evenodd" d="M0,66.7 L9.9,0 H25.7 L35.6,66.7 H25.1 L23.4,54.4 H12.2 L10.5,66.7 Z M13.6,45.4 H22 L17.8,13.3 Z"/></g>
<g transform="translate(145.00,0)"><path fill-rule="evenodd" d="M0,0 H22.3 A10,10 0 0 1 32.3,10 V56.7 A10,10 0 0 1 22.3,66.7 H0 Z M13,9.9 A2.4,2.4 0 0 0 10.6,12.3 V54.4 A2.4,2.4 0 0 0 13,56.8 H16.6 A4.6,4.6 0 0 0 21.2,52.2 V14.5 A4.6,4.6 0 0 0 16.6,9.9 Z"/></g>
<g transform="translate(183.50,0)"><path d="M0,0 H28.15 V9.9 H10.6 V28.5 H24.75 V37.9 H10.6 V56.8 H28.15 V66.7 H0 Z"/></g>
<g transform="translate(229.25,0)"><path d="M0,0 H32 V10 H21.7 V66.7 H10.4 V10 H0 Z"/></g>
<g transform="translate(259.80,0)"><path fill-rule="evenodd" d="M0,66.7 L9.9,0 H25.7 L35.6,66.7 H25.1 L23.4,54.4 H12.2 L10.5,66.7 Z M13.6,45.4 H22 L17.8,13.3 Z"/></g>
<g transform="translate(299.85,0)"><path d="M0,0 H11.25 V56.9 H28.15 V66.7 H0 Z"/></g>
<g transform="translate(331.95,0)"><path d="M0,0 H11.25 V56.9 H28.15 V66.7 H0 Z"/></g>
<g transform="translate(361.30,0)"><path fill-rule="evenodd" d="M0,66.7 L9.9,0 H25.7 L35.6,66.7 H25.1 L23.4,54.4 H12.2 L10.5,66.7 Z M13.6,45.4 H22 L17.8,13.3 Z"/></g>
<g transform="translate(400.85,0)"><path fill="none" stroke="#a997d1" stroke-width="10.7" d="M25.55,18.6 V15.3 A10.1,10.55 0 0 0 5.35,15.3 V20.5 C5.35,31 25.55,36.5 25.55,46.5 V51.4 A10.1,10.55 0 0 1 5.35,51.4 V46.3"/></g>
</g>
</svg>
</div></body></html>
